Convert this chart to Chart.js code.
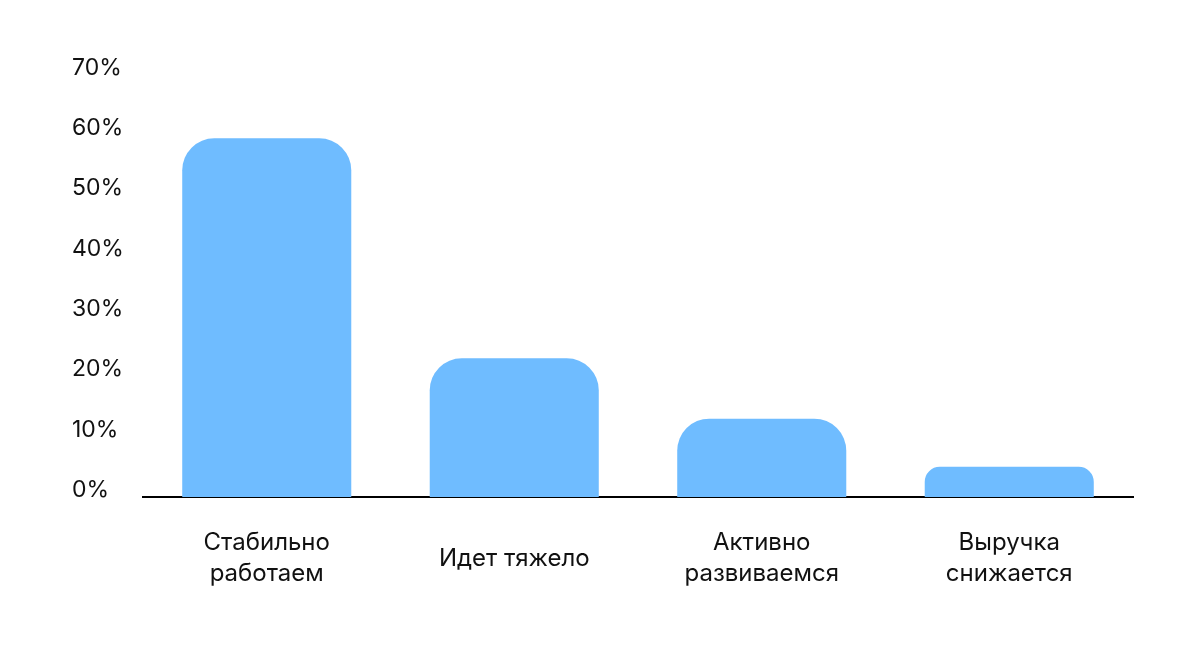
<!DOCTYPE html>
<html>
<head>
<meta charset="utf-8">
<script src="https://cdn.jsdelivr.net/npm/chart.js@4"></script>
<style>
  html, body { margin: 0; padding: 0; background: #ffffff; }
  #wrap { width: 1200px; height: 645px; position: relative; }
</style>
</head>
<body>
<div id="wrap"><canvas id="c" width="1200" height="645"></canvas></div>
<script>
const categories = [
  ['Стабильно', 'работаем'],
  'Идет тяжело',
  ['Активно', 'развиваемся'],
  ['Выручка', 'снижается']
];
const values = [59.5, 23, 13, 5];
const yTicks = [0, 10, 20, 30, 40, 50, 60, 70];

const barColor = '#6FBCFF';
const textColor = '#111111';

new Chart(document.getElementById('c'), {
  type: 'bar',
  data: {
    labels: categories,
    datasets: [{
      data: values,
      backgroundColor: barColor,
      borderWidth: 0,
      borderRadius: { topLeft: 32, topRight: 32, bottomLeft: 0, bottomRight: 0 },
      borderSkipped: 'bottom',
      barPercentage: 0.683,
      categoryPercentage: 1
    }]
  },
  options: {
    responsive: false,
    animation: false,
    devicePixelRatio: 1,
    layout: { padding: { left: 72, right: 67, top: 75, bottom: 48 } },
    plugins: { legend: { display: false }, tooltip: { enabled: false } },
    scales: {
      x: {
        grid: { display: false, drawTicks: false },
        border: { display: true, color: '#000000', width: 2 },
        ticks: {
          color: textColor,
          font: { family: 'Inter', size: 24, lineHeight: 1.3 },
          padding: 46,
          crossAlign: 'center',
          maxRotation: 0,
          autoSkip: false
        },
        afterFit: (s) => { s.height = 100; }
      },
      y: {
        min: 0,
        max: 70,
        afterBuildTicks: (s) => { s.ticks = yTicks.map(v => ({ value: v })); },
        grid: { display: false, drawTicks: false },
        border: { display: false },
        ticks: {
          color: textColor,
          font: { family: 'Inter', size: 23 },
          crossAlign: 'far',
          labelOffset: -7,
          padding: 0,
          callback: (v) => v + '%'
        },
        afterFit: (s) => { s.width = 71; }
      }
    }
  }
});
</script>
</body>
</html>
